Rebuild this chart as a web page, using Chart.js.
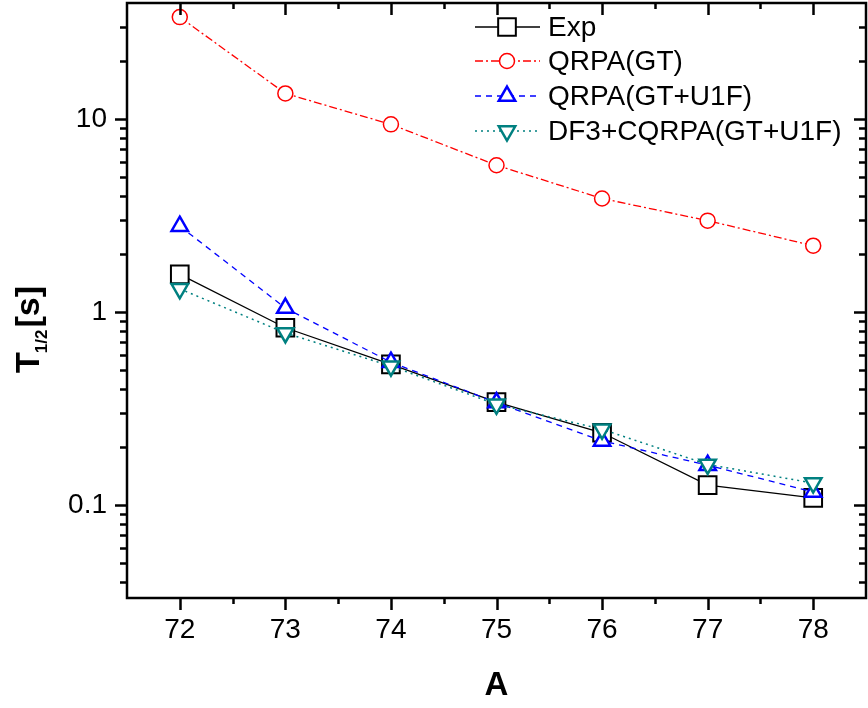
<!DOCTYPE html>
<html>
<head>
<meta charset="utf-8">
<script src="https://cdn.jsdelivr.net/npm/chart.js@4.4.0/dist/chart.umd.min.js"></script>
<style>
  body { margin: 0; background: #fff; }
  #wrap { width: 868px; height: 708px; }
</style>
</head>
<body>
<div id="wrap"><canvas id="halfLife" width="868" height="708"></canvas></div>
<script>
// mass numbers (x) and half-lives T1/2 in seconds
var massA = [72, 73, 74, 75, 76, 77, 78];
var expT = [1.57, 0.83, 0.536, 0.342, 0.237, 0.127, 0.109];
var qrpaGT = [33.8, 13.6, 9.4, 5.77, 3.88, 2.98, 2.21];
var qrpaGTU1F = [2.79, 1.05, 0.55, 0.34, 0.215, 0.161, 0.117];
var df3Cqrpa = [1.32, 0.78, 0.525, 0.333, 0.247, 0.1625, 0.130];
var seriesNames = ['Exp', 'QRPA(GT)', 'QRPA(GT+U1F)', 'DF3+CQRPA(GT+U1F)'];
var yTickLabels = ['0.1', '1', '10'];

var font = '"Liberation Sans", Arial, sans-serif';

function pts(ys) {
    return massA.map(function (a, i) { return { x: a, y: ys[i] }; });
}

// frame with inward ticks on top/right, outward on left/bottom
var framePlugin = {
    id: 'frame',
    afterDraw: function (chart) {
        var ctx = chart.ctx, ca = chart.chartArea;
        var xs = chart.scales.x, ys = chart.scales.y;
        ctx.save();
        ctx.strokeStyle = '#000';
        ctx.lineWidth = 2.5;
        ctx.strokeRect(ca.left, ca.top, ca.right - ca.left, ca.bottom - ca.top);
        ctx.beginPath();
        xs.ticks.forEach(function (t) {
            if (t.value <= xs.min || t.value >= xs.max) return;
            var major = Math.abs(t.value - Math.round(t.value)) < 1e-6;
            var len = major ? 12 : 6;
            var px = Math.round(xs.getPixelForValue(t.value)) + 0.5;
            ctx.moveTo(px, ca.bottom); ctx.lineTo(px, ca.bottom + len);
            ctx.moveTo(px, ca.top); ctx.lineTo(px, ca.top + len);
        });
        ys.ticks.forEach(function (t) {
            var v = t.value;
            if (v <= ys.min || v >= ys.max) return;
            var p = Math.pow(10, Math.floor(Math.log10(v) + 1e-9));
            var m = v / p;
            if (Math.abs(m - Math.round(m)) > 1e-6) return;
            var major = Math.abs(m - 1) < 1e-6;
            var len = major ? 12 : 7;
            var py = Math.round(ys.getPixelForValue(v)) + 0.5;
            ctx.moveTo(ca.left, py); ctx.lineTo(ca.left - len, py);
            ctx.moveTo(ca.right, py); ctx.lineTo(ca.right - len, py);
        });
        ctx.stroke();

        // y axis title with subscript
        ctx.fillStyle = '#000';
        ctx.translate(30, 373);
        ctx.rotate(-Math.PI / 2);
        ctx.textBaseline = 'middle';
        ctx.textAlign = 'left';
        ctx.font = 'bold 34px ' + font;
        ctx.fillText('T', 0, 0);
        var w = ctx.measureText('T').width;
        ctx.font = 'bold 17px ' + font;
        ctx.fillText('1/2', w - 1, 12);
        w += ctx.measureText('1/2').width + 1;
        ctx.font = 'bold 34px ' + font;
        ctx.fillText('[s]', w, 0);
        ctx.restore();
    }
};

var legendPlugin = {
    id: 'lineLegend',
    afterDraw: function (chart) {
        var ctx = chart.ctx;
        var x0 = 475, x1 = 540, xm = 507, tx = 548;
        var rows = [27, 61, 96, 131];
        ctx.save();
        chart.data.datasets.forEach(function (ds, i) {
            var y = rows[i];
            ctx.beginPath();
            ctx.setLineDash(ds.borderDash || []);
            ctx.strokeStyle = ds.borderColor;
            ctx.lineWidth = ds.borderWidth;
            ctx.moveTo(x0, y); ctx.lineTo(x1, y);
            ctx.stroke();
            ctx.setLineDash([]);
            ctx.fillStyle = '#fff';
            ctx.strokeStyle = ds.pointBorderColor;
            ctx.lineWidth = ds.pointBorderWidth;
            Chart.helpers.drawPoint(ctx, {
                pointStyle: ds.pointStyle, radius: ds.pointRadius,
                rotation: ds.pointRotation || 0, borderWidth: ds.pointBorderWidth
            }, xm, y);
            ctx.fillStyle = '#000';
            ctx.font = '28px ' + font;
            ctx.textBaseline = 'middle';
            ctx.fillText(ds.label, tx, y + 1);
        });
        ctx.restore();
    }
};

new Chart(document.getElementById('halfLife').getContext('2d'), {
    type: 'line',
    data: {
        datasets: [{
            label: seriesNames[0],
            data: pts(expT),
            borderColor: '#000',
            borderWidth: 1.3,
            pointStyle: 'rect',
            pointRadius: 12.5,
            pointBorderColor: '#000',
            pointBackgroundColor: '#fff',
            pointBorderWidth: 2,
            order: 4
        }, {
            label: seriesNames[1],
            data: pts(qrpaGT),
            borderColor: '#ff0000',
            borderWidth: 1.3,
            borderDash: [8, 3, 2, 3],
            pointStyle: 'circle',
            pointRadius: 7.5,
            pointBorderColor: '#ff0000',
            pointBackgroundColor: '#fff',
            pointBorderWidth: 1.5,
            order: 3
        }, {
            label: seriesNames[2],
            data: pts(qrpaGTU1F),
            borderColor: '#0000ff',
            borderWidth: 1.3,
            borderDash: [6, 5],
            pointStyle: 'triangle',
            pointRadius: 9.5,
            pointBorderColor: '#0000ff',
            pointBackgroundColor: '#fff',
            pointBorderWidth: 2.5,
            order: 2
        }, {
            label: seriesNames[3],
            data: pts(df3Cqrpa),
            borderColor: '#008080',
            borderWidth: 1.5,
            borderDash: [2, 4],
            pointStyle: 'triangle',
            pointRotation: 180,
            pointRadius: 9.5,
            pointBorderColor: '#008080',
            pointBackgroundColor: '#fff',
            pointBorderWidth: 2.5,
            order: 1
        }]
    },
    options: {
        responsive: false,
        animation: false,
        layout: { autoPadding: false, padding: { left: 0, right: 2, top: 3, bottom: 0 } },
        plugins: { legend: { display: false }, tooltip: { enabled: false } },
        scales: {
            x: {
                type: 'linear',
                min: 71.5,
                max: 78.5,
                afterFit: function (s) {
                    s.height = 110;
                    s.paddingLeft = 0; s.paddingRight = 0;
                },
                grid: { display: false, drawTicks: false },
                border: { display: false },
                ticks: {
                    stepSize: 0.5,
                    autoSkip: false,
                    maxRotation: 0,
                    padding: 15,
                    color: '#000',
                    font: { family: font, size: 28 },
                    callback: function (v) {
                        return Math.abs(v - Math.round(v)) < 1e-6 ? String(Math.round(v)) : '';
                    }
                },
                title: {
                    display: true,
                    text: 'A',
                    color: '#000',
                    font: { family: font, size: 33, weight: 'bold' },
                    padding: { top: 0, bottom: 2 }
                }
            },
            y: {
                type: 'logarithmic',
                min: 0.033,
                max: 40,
                afterFit: function (s) {
                    s.width = 127;
                    s.paddingTop = 0; s.paddingBottom = 0;
                },
                grid: { display: false, drawTicks: false },
                border: { display: false },
                ticks: {
                    autoSkip: false,
                    padding: 20,
                    color: '#000',
                    font: { family: font, size: 28 },
                    callback: function (v) {
                        var l = Math.log10(v);
                        if (Math.abs(l - Math.round(l)) > 1e-6) return '';
                        return yTickLabels[Math.round(l) + 1] || '';
                    }
                }
            }
        }
    },
    plugins: [framePlugin, legendPlugin]
});
</script>
</body>
</html>
